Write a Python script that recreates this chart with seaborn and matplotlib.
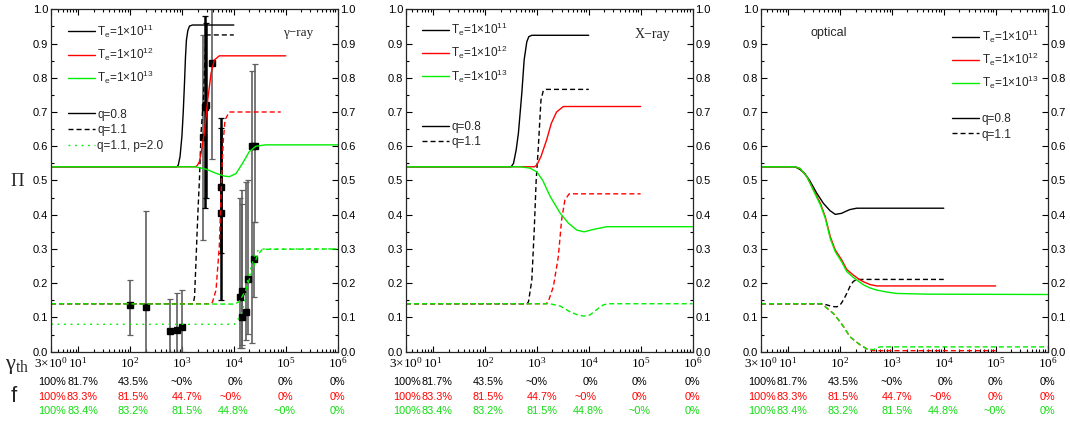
import numpy as np
import pandas as pd
import matplotlib
matplotlib.use("Agg")
import matplotlib.pyplot as plt
from matplotlib.lines import Line2D
from matplotlib.ticker import (FixedLocator, LogLocator, MultipleLocator,
                               NullFormatter, FormatStrFormatter)
import seaborn as sns

# ---------------------------------------------------------------- data
# gamma-ray band: (gamma_th, Pi) for each model curve
gr_g_11s = [3, 800, 850, 920, 1000, 1060, 1120, 1170, 1220, 1300, 1400, 1600, 1e4]
gr_p_11s = [0.54, 0.54, 0.545, 0.57, 0.63, 0.70, 0.784, 0.86, 0.91, 0.938, 0.951, 0.954, 0.954]
gr_g_11d = [3, 1650, 1750, 1850, 1950, 2050, 2170, 2340, 2620, 2750, 2870, 2950, 1e4]
gr_p_11d = [0.14, 0.14, 0.16, 0.25, 0.34, 0.42, 0.50, 0.64, 0.75, 0.84, 0.915, 0.925, 0.925]
gr_g_12s = [3, 1850, 2000, 2170, 2340, 2710, 3140, 3640, 4220, 5250, 1e5]
gr_p_12s = [0.54, 0.54, 0.545, 0.555, 0.58, 0.64, 0.735, 0.813, 0.852, 0.864, 0.864]
gr_g_12d = [3, 3700, 3900, 4540, 5250, 5660, 5930, 6280, 6770, 8190, 8e4]
gr_p_12d = [0.14, 0.14, 0.146, 0.18, 0.307, 0.453, 0.54, 0.618, 0.677, 0.70, 0.70]
gr_g_13s = [3, 1800, 2920, 4540, 6500, 8180, 1.1e4, 1.47e4, 1.98e4, 2.66e4, 4.1e4, 1e6]
gr_p_13s = [0.54, 0.54, 0.533, 0.521, 0.513, 0.511, 0.52, 0.55, 0.584, 0.60, 0.604, 0.604]
gr_g_13d = [3, 1.03e4, 1.27e4, 1.7e4, 2.3e4, 2.86e4, 3.55e4, 1e6]
gr_p_13d = [0.14, 0.139, 0.146, 0.18, 0.24, 0.282, 0.299, 0.30]
gr_g_13p = [3, 1.03e4, 1.37e4, 1.6e4, 1.84e4, 2.13e4, 2.66e4, 3.55e4, 1e6]
gr_p_13p = [0.08, 0.08, 0.107, 0.141, 0.21, 0.244, 0.292, 0.30, 0.30]

# X-ray band
xr_g_11s = [3, 320, 355, 400, 441, 513, 569, 640, 700, 800, 1e4]
xr_p_11s = [0.54, 0.54, 0.55, 0.59, 0.638, 0.755, 0.852, 0.905, 0.92, 0.924, 0.924]
xr_g_11d = [3, 650, 690, 800, 890, 970, 1070, 1200, 1330, 1500, 1e4]
xr_p_11d = [0.14, 0.14, 0.146, 0.209, 0.355, 0.50, 0.60, 0.735, 0.762, 0.766, 0.766]
xr_g_12s = [3, 900, 1000, 1200, 1540, 1900, 2400, 3240, 1e5]
xr_p_12s = [0.54, 0.54, 0.545, 0.57, 0.618, 0.667, 0.70, 0.716, 0.716]
xr_g_12d = [3, 1500, 1660, 2080, 2590, 3000, 3470, 4200, 1e5]
xr_p_12d = [0.14, 0.14, 0.146, 0.19, 0.277, 0.385, 0.443, 0.461, 0.461]
xr_g_13s = [3, 480, 740, 1000, 1300, 1810, 2830, 4080, 5900, 8150, 1.23e4, 2.23e4, 1e6]
xr_p_13s = [0.54, 0.54, 0.536, 0.525, 0.50, 0.453, 0.404, 0.375, 0.355, 0.350, 0.357, 0.365, 0.365]
xr_g_13d = [3, 1800, 2830, 4300, 6200, 8100, 1.05e4, 1.4e4, 1.87e4, 2.3e4, 1e6]
xr_p_13d = [0.14, 0.14, 0.133, 0.117, 0.107, 0.104, 0.107, 0.122, 0.136, 0.14, 0.14]

# optical band
op_g_11s = [3, 13.6, 17, 21, 26, 35.6, 48, 64, 81, 107, 130, 155, 210, 1e4]
op_p_11s = [0.54, 0.54, 0.532, 0.52, 0.50, 0.463, 0.433, 0.412, 0.401, 0.404, 0.41, 0.415, 0.419, 0.419]
op_g_11d = [3, 42, 55, 70, 87, 100, 110, 122, 135, 155, 180, 210, 1e4]
op_p_11d = [0.14, 0.14, 0.137, 0.132, 0.131, 0.136, 0.145, 0.157, 0.17, 0.19, 0.205, 0.211, 0.211]
op_g_12s = [3, 13.6, 17, 23, 31, 42, 52, 65, 81, 108, 135, 180, 230, 285, 380, 510, 1e5]
op_p_12s = [0.54, 0.54, 0.535, 0.511, 0.472, 0.433, 0.394, 0.336, 0.297, 0.268, 0.24, 0.224, 0.212, 0.204, 0.196, 0.192, 0.192]
op_g_12d = [3, 42, 48, 56, 74, 95, 117, 155, 200, 245, 330, 445, 1e5]
op_p_12d = [0.14, 0.14, 0.136, 0.127, 0.112, 0.092, 0.073, 0.044, 0.03, 0.02, 0.008, 0.003, 0.003]
op_g_13s = [3, 13.6, 17, 23, 31, 42, 52, 65, 81, 108, 135, 180, 230, 285, 380, 510, 800, 1250, 4800, 1e6]
op_p_13s = [0.54, 0.54, 0.535, 0.511, 0.47, 0.428, 0.39, 0.33, 0.292, 0.262, 0.234, 0.217, 0.205, 0.195, 0.186, 0.18, 0.174, 0.17, 0.168, 0.167]
op_g_13d = [3, 42, 48, 56, 74, 95, 117, 155, 200, 245, 330, 445, 520, 590, 1e6]
op_p_13d = [0.14, 0.14, 0.136, 0.127, 0.112, 0.092, 0.073, 0.044, 0.03, 0.02, 0.008, 0.006, 0.011, 0.014, 0.014]

# gamma-ray measurements: value with lower / upper ends of the error bar
obs_gamma = [100, 200, 600, 800, 1000, 2510, 3740, 1.31e4, 1.45e4, 1.47e4, 1.71e4, 1.84e4, 2.2e4, 2.45e4, 2.55e4]
obs_pi = [0.135, 0.131, 0.060, 0.063, 0.072, 0.628, 0.842, 0.16, 0.102, 0.177, 0.115, 0.212, 0.60, 0.27, 0.60]
obs_lo = [0.05, 0.0, 0.0, 0.0, 0.0, 0.326, 0.562, 0.011, 0.012, 0.02, 0.035, 0.052, 0.025, 0.16, 0.38]
obs_hi = [0.209, 0.411, 0.155, 0.171, 0.179, 0.925, 1.0, 0.45, 0.43, 0.472, 0.497, 0.50, 0.82, 0.38, 0.84]
obs_b_gamma = [2800, 2920, 5660, 5700]
obs_b_pi = [0.716, 0.72, 0.482, 0.404]
obs_b_lo = [0.42, 0.448, 0.287, 0.151]
obs_b_hi = [0.981, 0.959, 0.682, 0.654]

# x-axis ticks and the fraction f listed under them
tick_gamma = [3, 10, 1e2, 1e3, 1e4, 1e5, 1e6]
tick_text = [r"$\mathregular{3{\times}10^{0}}$", r"$\mathregular{10^{1}}$",
             r"$\mathregular{10^{2}}$", r"$\mathregular{10^{3}}$",
             r"$\mathregular{10^{4}}$", r"$\mathregular{10^{5}}$",
             r"$\mathregular{10^{6}}$"]
f_te11 = ["100%", "81.7%", "43.5%", "~0%", "0%", "0%", "0%"]
f_te12 = ["100%", "83.3%", "81.5%", "44.7%", "~0%", "0%", "0%"]
f_te13 = ["100%", "83.4%", "83.2%", "81.5%", "44.8%", "~0%", "0%"]

te_levels = ["1e11", "1e12", "1e13"]
te_labels = [r"T$_\mathregular{e}$=1$\mathregular{\times}$10$^\mathregular{11}$",
             r"T$_\mathregular{e}$=1$\mathregular{\times}$10$^\mathregular{12}$",
             r"T$_\mathregular{e}$=1$\mathregular{\times}$10$^\mathregular{13}$"]

# ---------------------------------------------------------------- style
sns.set_style("ticks")
plt.rcParams.update({
    "font.family": ["Liberation Sans", "DejaVu Sans"],
    "mathtext.fontset": "custom",
    "mathtext.rm": "Liberation Sans",
    "mathtext.it": "Liberation Sans:italic",
    "mathtext.bf": "Liberation Sans:bold",
    "axes.linewidth": 0.9,
})

BLACK, RED, GREEN = "#000000", "#ff0000", "#00ee00"
palette = {"1e11": BLACK, "1e12": RED, "1e13": GREEN}
dash_spec = {"q=0.8": "", "q=1.1": (3.6, 2.2), "q=1.1, p=2.0": (1.3, 3.4)}


def frame(rows):
    parts = []
    for te, model, g, p in rows:
        parts.append(pd.DataFrame({"gamma": g, "Pi": p, "Te": te, "model": model}))
    return pd.concat(parts, ignore_index=True)


panels = [
    frame([("1e11", "q=0.8", gr_g_11s, gr_p_11s), ("1e11", "q=1.1", gr_g_11d, gr_p_11d),
           ("1e12", "q=0.8", gr_g_12s, gr_p_12s), ("1e12", "q=1.1", gr_g_12d, gr_p_12d),
           ("1e13", "q=0.8", gr_g_13s, gr_p_13s), ("1e13", "q=1.1", gr_g_13d, gr_p_13d),
           ("1e13", "q=1.1, p=2.0", gr_g_13p, gr_p_13p)]),
    frame([("1e11", "q=0.8", xr_g_11s, xr_p_11s), ("1e11", "q=1.1", xr_g_11d, xr_p_11d),
           ("1e12", "q=0.8", xr_g_12s, xr_p_12s), ("1e12", "q=1.1", xr_g_12d, xr_p_12d),
           ("1e13", "q=0.8", xr_g_13s, xr_p_13s), ("1e13", "q=1.1", xr_g_13d, xr_p_13d)]),
    frame([("1e11", "q=0.8", op_g_11s, op_p_11s), ("1e11", "q=1.1", op_g_11d, op_p_11d),
           ("1e12", "q=0.8", op_g_12s, op_p_12s), ("1e12", "q=1.1", op_g_12d, op_p_12d),
           ("1e13", "q=0.8", op_g_13s, op_p_13s), ("1e13", "q=1.1", op_g_13d, op_p_13d)]),
]

fig = plt.figure(figsize=(10.7, 4.23), dpi=100)
ax_w, ax_h, ax_b = 0.2678, 0.8095, 0.1686
lefts = [0.0477, 0.3794, 0.7112]
axes = [fig.add_axes([l, ax_b, ax_w, ax_h]) for l in lefts]

for ax, df in zip(axes, panels):
    ax.set_xscale("log")
    ax.set_xlim(3, 1e6)
    ax.set_ylim(0, 1)
    sns.lineplot(data=df, x="gamma", y="Pi", hue="Te", style="model",
                 hue_order=te_levels, palette=palette, dashes=dash_spec,
                 estimator=None, sort=False, lw=1.0, legend=False, ax=ax)
    ax.set_xlabel("")
    ax.set_ylabel("")
    ax.xaxis.set_major_locator(FixedLocator(tick_gamma))
    ax.set_xticklabels(tick_text, fontfamily="Liberation Serif", fontsize=9.5)
    ax.xaxis.set_minor_locator(LogLocator(base=10, subs=np.arange(2, 10), numticks=20))
    ax.xaxis.set_minor_formatter(NullFormatter())
    ax.yaxis.set_major_locator(MultipleLocator(0.1))
    ax.yaxis.set_minor_locator(MultipleLocator(0.05))
    ax.yaxis.set_major_formatter(FormatStrFormatter("%.1f"))
    ax.tick_params(which="both", direction="in", top=True, right=True,
                   labelright=True, width=0.8, colors="black")
    ax.tick_params(which="major", length=4.2)
    ax.tick_params(which="minor", length=2.2)
    ax.tick_params(axis="x", pad=3)
    ax.tick_params(axis="y", pad=2, labelsize=8)

    # fraction rows under the axis
    tr = ax.get_xaxis_transform()
    rows = [(f_te11, BLACK, [3.2, 12.1, 115, 1000, 1.07e4, 9.7e4, 1e6], -0.0885),
            (f_te12, RED, [3.2, 12.1, 115, 1250, 8550, 9.7e4, 1e6], -0.132),
            (f_te13, "#11dd11", [3.2, 12.1, 115, 1250, 9770, 9.5e4, 1e6], -0.173)]
    for texts, col, xs, yy in rows:
        for s, xg in zip(texts, xs):
            ax.text(xg, yy, s, transform=tr, color=col, fontsize=7.8,
                    ha="center", va="center", clip_on=False)

# measurements in the gamma-ray band
ax0 = axes[0]
ax0.errorbar(obs_gamma, obs_pi,
             yerr=[np.subtract(obs_pi, obs_lo), np.subtract(obs_hi, obs_pi)],
             fmt="s", ms=4, mfc="black", mec="black", ecolor="#606060",
             elinewidth=1.2, capsize=2.2, capthick=0.9, zorder=1.5)
ax0.errorbar(obs_b_gamma, obs_b_pi,
             yerr=[np.subtract(obs_b_pi, obs_b_lo), np.subtract(obs_b_hi, obs_b_pi)],
             fmt="s", ms=4, mfc="black", mec="black", ecolor="black",
             elinewidth=1.8, capsize=2.2, capthick=0.9, zorder=1.6)


def legends(ax, te_xy, q_xy, q_items):
    te_handles = [Line2D([], [], color=palette[t], lw=1.0) for t in te_levels]
    leg1 = ax.legend(te_handles, te_labels, loc="upper left", bbox_to_anchor=te_xy,
                     frameon=False, fontsize=8.5, handlelength=2.3, handletextpad=0.2,
                     borderpad=0, borderaxespad=0, labelspacing=0.5)
    ax.add_artist(leg1)
    q_handles = []
    for name, col in q_items:
        h = Line2D([], [], color=col, lw=1.0)
        if dash_spec[name]:
            h.set_dashes(dash_spec[name])
        q_handles.append(h)
    ax.legend(q_handles, [n for n, _ in q_items], loc="upper left", bbox_to_anchor=q_xy,
              frameon=False, fontsize=8.5, handlelength=2.3, handletextpad=0.2,
              borderpad=0, borderaxespad=0, labelspacing=0.3)


legends(axes[0], (0.059, 0.962), (0.059, 0.71),
        [("q=0.8", BLACK), ("q=1.1", BLACK), ("q=1.1, p=2.0", GREEN)])
legends(axes[1], (0.055, 0.966), (0.055, 0.674),
        [("q=0.8", BLACK), ("q=1.1", BLACK)])
legends(axes[2], (0.667, 0.946), (0.667, 0.697),
        [("q=0.8", BLACK), ("q=1.1", BLACK)])

axes[0].text(0.862, 0.931, "γ−ray", transform=axes[0].transAxes, fontsize=9.5,
             fontfamily="Liberation Serif", ha="center", va="center")
axes[1].text(0.859, 0.925, "X−ray", transform=axes[1].transAxes, fontsize=10,
             fontfamily="Liberation Serif", ha="center", va="center")
axes[2].text(0.235, 0.930, "optical", transform=axes[2].transAxes, fontsize=9,
             ha="center", va="center")

fig.text(17.5 / 1070, 1 - 182 / 423, "Π", fontsize=13.5, fontfamily="Liberation Serif",
         ha="center", va="center")
fig.text(17 / 1070, 1 - 366 / 423, r"γ$_\mathregular{th}$", fontsize=16,
         fontfamily="Liberation Serif", ha="center", va="center")
fig.text(14 / 1070, 1 - 396 / 423, "f", fontsize=16, ha="center", va="center")

fig.savefig("out.png", dpi=100)
